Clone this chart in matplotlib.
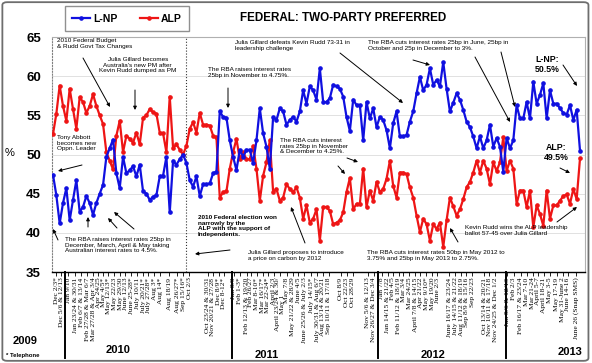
import matplotlib
matplotlib.use('Agg')
import matplotlib.pyplot as plt
from matplotlib.lines import Line2D
from matplotlib.patches import FancyBboxPatch
import numpy as np

plt.rcParams['font.family'] = ['Liberation Sans', 'DejaVu Sans']

# two-party preferred, one value per poll (left to right)
lnp = [47.4, 44.8, 41.2, 43.8, 45.7, 41.6, 44.2, 46.7, 42.7, 43.3, 44.7, 43.8, 42.3, 43.8, 45.0, 46.1,
       49.7, 50.8, 51.9, 47.6, 45.7, 49.7, 47.6, 48.0, 48.5, 47.2, 48.7, 45.3, 45.0, 44.2, 44.6,
       44.8, 47.2, 47.3, 49.7, 42.6, 49.2, 48.7, 49.4, 50.0, 48.9, 46.7, 45.9, 47.2, 44.7, 46.2, 46.2,
       46.3, 47.6, 47.8, 55.5, 54.8, 54.7, 51.8, 49.7, 48.0, 50.6, 49.7, 50.6, 50.6, 48.9, 51.8,
       55.9, 52.7, 51.0, 48.2, 54.8, 54.4, 55.9, 55.5, 53.8, 54.4, 54.8, 54.2, 55.5, 58.2, 56.5, 58.7,
       58.2, 57.0, 61.0, 56.7, 56.7, 57.2, 58.9, 58.7, 58.4, 57.4, 54.8, 53.0, 57.0, 56.3, 56.3, 51.8,
       56.7, 54.6, 55.9, 53.5, 54.8, 54.4, 53.1, 50.8, 54.0, 55.5, 52.3, 52.3, 52.5, 54.2, 55.5, 57.8,
       59.9, 58.2, 58.9, 61.0, 58.9, 59.5, 58.7, 61.8, 58.4, 55.5, 56.6, 57.8, 57.0, 55.7, 54.2, 53.5,
       52.3, 50.8, 52.3, 50.8, 51.8, 53.8, 51.0, 52.1, 51.0, 47.8, 52.1, 50.8, 51.8, 56.3, 54.6, 54.6,
       56.7, 54.6, 59.3, 56.5, 57.6, 59.1, 54.6, 58.2, 56.5, 56.5, 55.9, 55.3, 55.1, 56.3, 54.4, 55.7, 50.5]

alp = [52.6, 55.2, 58.8, 56.2, 54.3, 58.4, 55.8, 53.3, 57.3, 56.7, 55.3, 56.2, 57.7, 56.2, 55.0, 53.9,
       50.3, 49.2, 48.1, 52.4, 54.3, 50.3, 52.4, 52.0, 51.5, 52.8, 51.3, 54.7, 55.0, 55.8, 55.4,
       55.2, 52.8, 52.7, 50.3, 57.4, 50.8, 51.3, 50.6, 50.0, 51.1, 53.3, 54.1, 52.8, 55.3, 53.8, 53.8,
       53.7, 52.4, 52.2, 44.5, 45.2, 45.3, 48.2, 50.3, 52.0, 49.4, 50.3, 49.4, 49.4, 51.1, 48.2,
       44.1, 47.3, 49.0, 51.8, 45.2, 45.6, 44.1, 44.5, 46.2, 45.6, 45.2, 45.8, 44.5, 41.8, 43.5, 41.3,
       41.8, 43.0, 39.0, 43.3, 43.3, 42.8, 41.1, 41.3, 41.6, 42.6, 45.2, 47.0, 43.0, 43.7, 43.7, 48.2,
       43.3, 45.4, 44.1, 46.5, 45.2, 45.6, 46.9, 49.2, 46.0, 44.5, 47.7, 47.7, 47.5, 45.8, 44.5, 42.2,
       40.1, 41.8, 41.1, 39.0, 41.1, 40.5, 41.3, 38.2, 41.6, 44.5, 43.4, 42.2, 43.0, 44.3, 45.8, 46.5,
       47.7, 49.2, 47.7, 49.2, 48.2, 46.2, 49.0, 47.9, 49.0, 52.2, 47.9, 49.2, 48.2, 43.7, 45.4, 45.4,
       43.3, 45.4, 40.7, 43.5, 42.4, 40.9, 45.4, 41.8, 43.5, 43.5, 44.1, 44.7, 44.9, 43.7, 45.6, 44.3, 49.5]

tick_labels = ['Dec 2/3*', 'Dec 5/6 & 12/13',
               'Jan 9/10', 'Jan 23/24 & 30/31', 'Feb 6/7 & 13/14', 'Feb 27/28 & Mar 6/7',
               'Mar 27/28 & Apr 3/4', 'Apr 24/25', 'May 4/5*', 'May 12/13*', 'May 22/23', 'May 29/30',
               'June 12/13', 'June 25-28*', 'July 10/11', 'July 20/21*', 'July 27/28*', 'Aug 3*',
               'Aug 14*', 'Aug 18/19', 'Aug 26/27*', 'Sep 15/16*', 'Oct 2/3', 'Oct 23/24 & 30/31',
               'Nov 20/21 & 27/28', 'Dec 8/9*', 'Dec 8-12*',
               'Jan 8/9', 'Feb 1-3*', 'Feb 12/13 & 19/20', 'Feb 26/27', 'Mar 8-10*', 'Mar 16/17*',
               'Mar 22-24*', 'April 2/3', 'April 23/24 & 30/\nMay 1', 'May 7/8', 'May 21/22 & 28/29',
               'June 4/5', 'June 25/26 & July 2/3', 'July 14/15*', 'July 30/31 & Aug 6/7',
               'Aug 13/14 & 20/21', 'Sep 10/11 & 17/18', 'Oct 8/9', 'Oct 22/23', 'Oct 28/29',
               'Nov 5/6 & 12/13', 'Nov 26/27 & Dec 3/4',
               'Jan 7/8', 'Jan 14/15 & 21/22', 'Feb 4/5', 'Feb 11/12 & 18/19', 'Mar 3/4', 'Mar 24/25',
               'April 7/8 & 14/15', 'Apr 21/22', 'May 9/10*', 'May 19/20', 'June 2/3',
               'June 16/17 & 23/24', 'July 14/15 & 21/22', 'Aug 11/12 & 18/19', 'Sep 8/9 & 15/16',
               'Sep 22/23', 'Oct 13/14 & 20/21', 'Nov 10/11 & 17/18', 'Nov 24/25 & Dec 1/2',
               'Jan 5/6 & 12/13', 'Feb 2/3', 'Feb 16/17 & 23/24', 'Mar 7-10', 'Mar 21-24', 'April 5-7',
               'April 18-21', 'May 3-5', 'May 17-19', 'May 31-June 2', 'June 14-16',
               'June 26 (Snap SMS)']

# where each label sits, in poll-index units
tick_pos = [1.0, 2.5,
            4.5, 6.7, 8.5, 10.3, 12.0, 13.5, 15.0, 16.5, 18.3, 20.1, 21.6, 23.4, 25.2, 27.0, 28.5,
            30.3, 32.1, 34.8, 37.2, 39.0, 40.8, 46.4, 47.9, 49.7, 51.2,
            54.2, 56.0, 58.1, 59.3, 61.1, 62.9, 64.4, 66.2, 68.0, 70.1, 71.9, 73.6, 75.4, 77.5, 79.3,
            80.8, 82.6, 86.2, 88.0, 89.8, 94.3, 96.1,
            98.5, 100.3, 101.8, 103.6, 105.0, 106.8, 108.6, 110.1, 111.9, 113.7, 115.2, 118.8, 120.6,
            122.4, 123.9, 125.7, 129.3, 130.8, 132.6,
            136.2, 138.2, 140.3, 142.1, 143.9, 145.4, 147.2, 149.0, 151.1, 152.9, 154.4, 156.8]

years = ['2009', '2010', '2011', '2012', '2013']
year_breaks = [3.7, 53.6, 97.3, 135.9]
election_poll = 39.9

W, H = 592, 363
fig = plt.figure(figsize=(W / 100, H / 100), dpi=100)


def fpos(x, y):
    # pixel position in the reference -> figure fraction
    return (x / W, 1 - y / H)


ax = fig.add_axes([52 / W, 1 - 272 / H, (585 - 52) / W, (272 - 37) / H])
idx = np.arange(len(lnp))
blue = '#1010e0'
red = '#ee1515'
ax.plot(idx, alp, color=red, lw=1.6, marker='o', ms=2.3, zorder=3)
ax.plot(idx, lnp, color=blue, lw=1.6, marker='o', ms=2.3, zorder=4)

ax.set_xlim(-0.3, 159.5)
ax.set_ylim(35, 65)
ax.set_yticks(range(35, 66, 5))
ax.set_yticklabels([str(v) for v in range(35, 66, 5)], fontsize=9.5, fontweight='bold')
ax.tick_params(axis='y', length=0, pad=8)
ax.yaxis.grid(True, color='#dcdcdc', lw=0.6)
ax.set_axisbelow(True)

ax.set_xticks(tick_pos)
ax.set_xticklabels(tick_labels, rotation=90, fontsize=5.4, family=['Liberation Serif', 'DejaVu Serif'],
                   linespacing=0.9)
ax.tick_params(axis='x', length=3, width=0.6, pad=1)

for s in ['top', 'right']:
    ax.spines[s].set_color('#b0b0b0')
    ax.spines[s].set_linewidth(0.8)
ax.spines['left'].set_color('#808080')
ax.spines['left'].set_linestyle(':')
ax.spines['bottom'].set_linewidth(1.0)

ax.axvline(election_poll, color='#333333', lw=0.8, ls=':', zorder=1)
for b in year_breaks:
    ax.axvline(b, ymin=-0.365, ymax=0, color='black', lw=1.4, clip_on=False)

# titles and labels
fig.text(*fpos(343, 18), 'FEDERAL: TWO-PARTY PREFERRED', ha='center', va='center',
         fontsize=8.4, fontweight='bold')
fig.text(*fpos(10, 153), '%', ha='center', va='center', fontsize=8)

year_xy = [(25, 341), (118, 350), (267, 355), (433, 355), (570, 352)]
for name, (x, y) in zip(years, year_xy):
    fig.text(*fpos(x, y), name, ha='center', va='center', fontsize=8, fontweight='bold')
fig.text(*fpos(23, 355), '* Telephone', ha='center', va='center', fontsize=4.3, fontweight='bold')

handles = [Line2D([], [], color=blue, lw=1.6, marker='o', ms=2.3),
           Line2D([], [], color=red, lw=1.6, marker='o', ms=2.3)]
fig.legend(handles, ['L-NP', 'ALP'], loc='center', bbox_to_anchor=fpos(127, 18.5), ncol=2,
           fancybox=False, edgecolor='#909090', framealpha=1,
           prop=dict(weight='bold', size=7.5), handlelength=1.7, handletextpad=0.3,
           columnspacing=2.2, borderpad=0.7)

# annotations: (text, top-left pixel, bold, alignment)
notes = [
    ('2010 Federal Budget\n& Rudd Govt Tax Changes', (57, 38), False, 'left'),
    ("Julia Gillard becomes\nAustralia's new PM after\nKevin Rudd dumped as PM", (99, 57), False, 'center'),
    ('Tony Abbott\nbecomes new\nOppn. Leader', (57, 135), False, 'left'),
    ('The RBA raises interest rates 25bp in\nDecember, March, April & May taking\n'
     'Australian interest rates to 4.5%.', (65, 237), False, 'left'),
    ('2010 Federal election won\nnarrowly by the\nALP with the support of\nIndependents.',
     (198, 215), True, 'left'),
    ('Julia Gillard proposes to introduce\na price on carbon by 2012', (248, 250), False, 'left'),
    ('Julia Gillard defeats Kevin Rudd 73-31 in\nleadership challenge', (235, 40), False, 'left'),
    ('The RBA raises interest rates\n25bp in November to 4.75%.', (208, 67), False, 'left'),
    ('The RBA cuts interest\nrates 25bp in November\n& December to 4.25%.', (280, 138), False, 'left'),
    ('The RBA cuts interest rates 25bp in June, 25bp in\nOctober and 25p in December to 3%.',
     (368, 40), False, 'left'),
    ('Kevin Rudd wins the ALP leadership\nballot 57-45 over Julia Gillard', (465, 225), False, 'left'),
    ('The RBA cuts interest rates 50bp in May 2012 to\n3.75% and 25bp in May 2013 to 2.75%.',
     (367, 250), False, 'left'),
]
for txt, (x, y), bold, al in notes:
    fig.text(*fpos(x, y), txt, ha='left', va='top', multialignment=al, fontsize=4.6,
             fontweight='bold' if bold else 'normal', linespacing=1.15)

fig.text(*fpos(547, 55), 'L-NP:\n50.5%', ha='center', va='top', fontsize=6.3, fontweight='bold',
         linespacing=1.15)
fig.text(*fpos(556, 143), 'ALP:\n49.5%', ha='center', va='top', fontsize=6.3, fontweight='bold',
         linespacing=1.15)

arrows = [((83, 58), (110, 107)), ((135, 90), (135, 110)), ((82, 165), (58, 171)),
          ((58, 240), (53, 229)), ((88, 227), (88, 217)), ((117, 228), (108, 218)),
          ((134, 229), (114, 212)), ((230, 250), (195, 254)), ((305, 243), (291, 207)),
          ((340, 53), (403, 103)), ((228, 88), (228, 108)), ((347, 158), (358, 162)),
          ((338, 166), (345, 174)), ((413, 60), (430, 65)), ((475, 57), (510, 122)),
          ((501, 52), (515, 107)), ((563, 65), (577, 86)), ((560, 168), (570, 173)),
          ((557, 222), (577, 207)), ((458, 242), (450, 228))]
for tail, head in arrows:
    ax.annotate('', xy=fpos(*head), xytext=fpos(*tail), xycoords='figure fraction',
                textcoords='figure fraction',
                arrowprops=dict(arrowstyle='-|>', color='black', lw=0.7, mutation_scale=5,
                                shrinkA=0, shrinkB=0))

frame = FancyBboxPatch((0.004, 0.006), 0.99, 0.988, boxstyle='round,pad=0,rounding_size=0.008',
                       transform=fig.transFigure, fill=False, ec='#6e6e6e', lw=1.3)
fig.add_artist(frame)

fig.savefig('out.png', dpi=100)
